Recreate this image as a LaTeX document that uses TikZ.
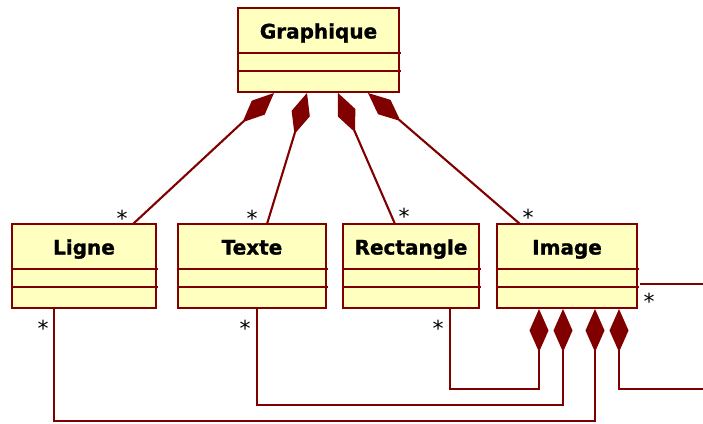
\documentclass[tikz,border=0pt]{standalone}
\usepackage{fontspec}
\setmainfont{DejaVu Sans}[BoldFeatures={FakeBold=1.2}]
\usetikzlibrary{arrows.meta}
\definecolor{umlred}{RGB}{128,0,0}
\definecolor{umlfill}{RGB}{255,255,192}
\tikzset{
  clsbox/.style={draw=umlred, fill=umlfill, line width=2.2pt, inner sep=0pt, outer sep=0pt, anchor=north west},
  clsname/.style={font=\bfseries\fontsize{20}{20}\selectfont, inner sep=0pt, anchor=base},
  sepline/.style={draw=umlred, line width=2.2pt},
  conn/.style={draw=umlred, line width=2.1pt},
  comp/.style={conn, -{Diamond[length=43pt,width=19pt,fill=umlred,line width=0pt]}},
  mult/.style={font=\fontsize{22}{22}\selectfont, inner sep=0pt, text height=0.6em, text depth=0pt},
}
\newcommand{\umlclass}[5]{%
  \node[clsbox, minimum width=#4pt, minimum height=84pt] (#1) at (#2,#3) {};
  \node[clsname] (#1-name) at ([yshift=-30.5pt]#1.north) {#5};
  \draw[sepline] ([yshift=-45pt]#1.north west) -- ([yshift=-45pt,xshift=2pt]#1.north east);
  \draw[sepline] ([yshift=-63pt]#1.north west) -- ([yshift=-63pt,xshift=2pt]#1.north east);
}
\begin{document}
\begin{tikzpicture}[x=1pt,y=-1pt]
\useasboundingbox (0,0) rectangle (703,423);
\umlclass{g}{238}{8}{161}{Graphique}
\umlclass{li}{12}{224}{144}{Ligne}
\umlclass{te}{178}{224}{148}{Texte}
\umlclass{re}{343}{224}{136}{Rectangle}
\umlclass{im}{497}{224}{140}{Image}

% composition anchors on Graphique
\coordinate (g1) at (274,93);
\coordinate (g2) at (307,93);
\coordinate (g3) at (338,93);
\coordinate (g4) at (368,93);
\coordinate (li1) at (133,224);
\coordinate (te1) at (267,224);
\coordinate (re1) at (395,224);
\coordinate (im1) at (520,224);
\draw[comp] (li1) -- (g1);
\draw[comp] (te1) -- (g2);
\draw[comp] (re1) -- (g3);
\draw[comp] (im1) -- (g4);

\node[mult] (m1) at (122,223) {*};
\node[mult] (m2) at (252,223) {*};
\node[mult] (m3) at (404,221) {*};
\node[mult] (m4) at (528,222) {*};

% compositions on Image
\coordinate (i1) at (539,309);
\coordinate (i2) at (563,309);
\coordinate (i3) at (595,309);
\coordinate (i4) at (619,309);
\coordinate (reb) at (450,309);
\coordinate (teb) at (257,309);
\coordinate (lib) at (54,309);
\coordinate (ext1) at (703,389);
\draw[comp] (reb) -- (450,389) -| (i1);
\draw[comp] (teb) -- (257,405) -| (i2);
\draw[comp] (lib) -- (54,421) -| (i3);
\draw[comp] (ext1) -| (i4);

\coordinate (imr) at (640,284);
\coordinate (ext2) at (703,284);
\draw[conn] (imr) -- (ext2);

\node[mult] (m5) at (43,333) {*};
\node[mult] (m6) at (245,333) {*};
\node[mult] (m7) at (438,333) {*};
\node[mult] (m8) at (649,306) {*};
\end{tikzpicture}
\end{document}
